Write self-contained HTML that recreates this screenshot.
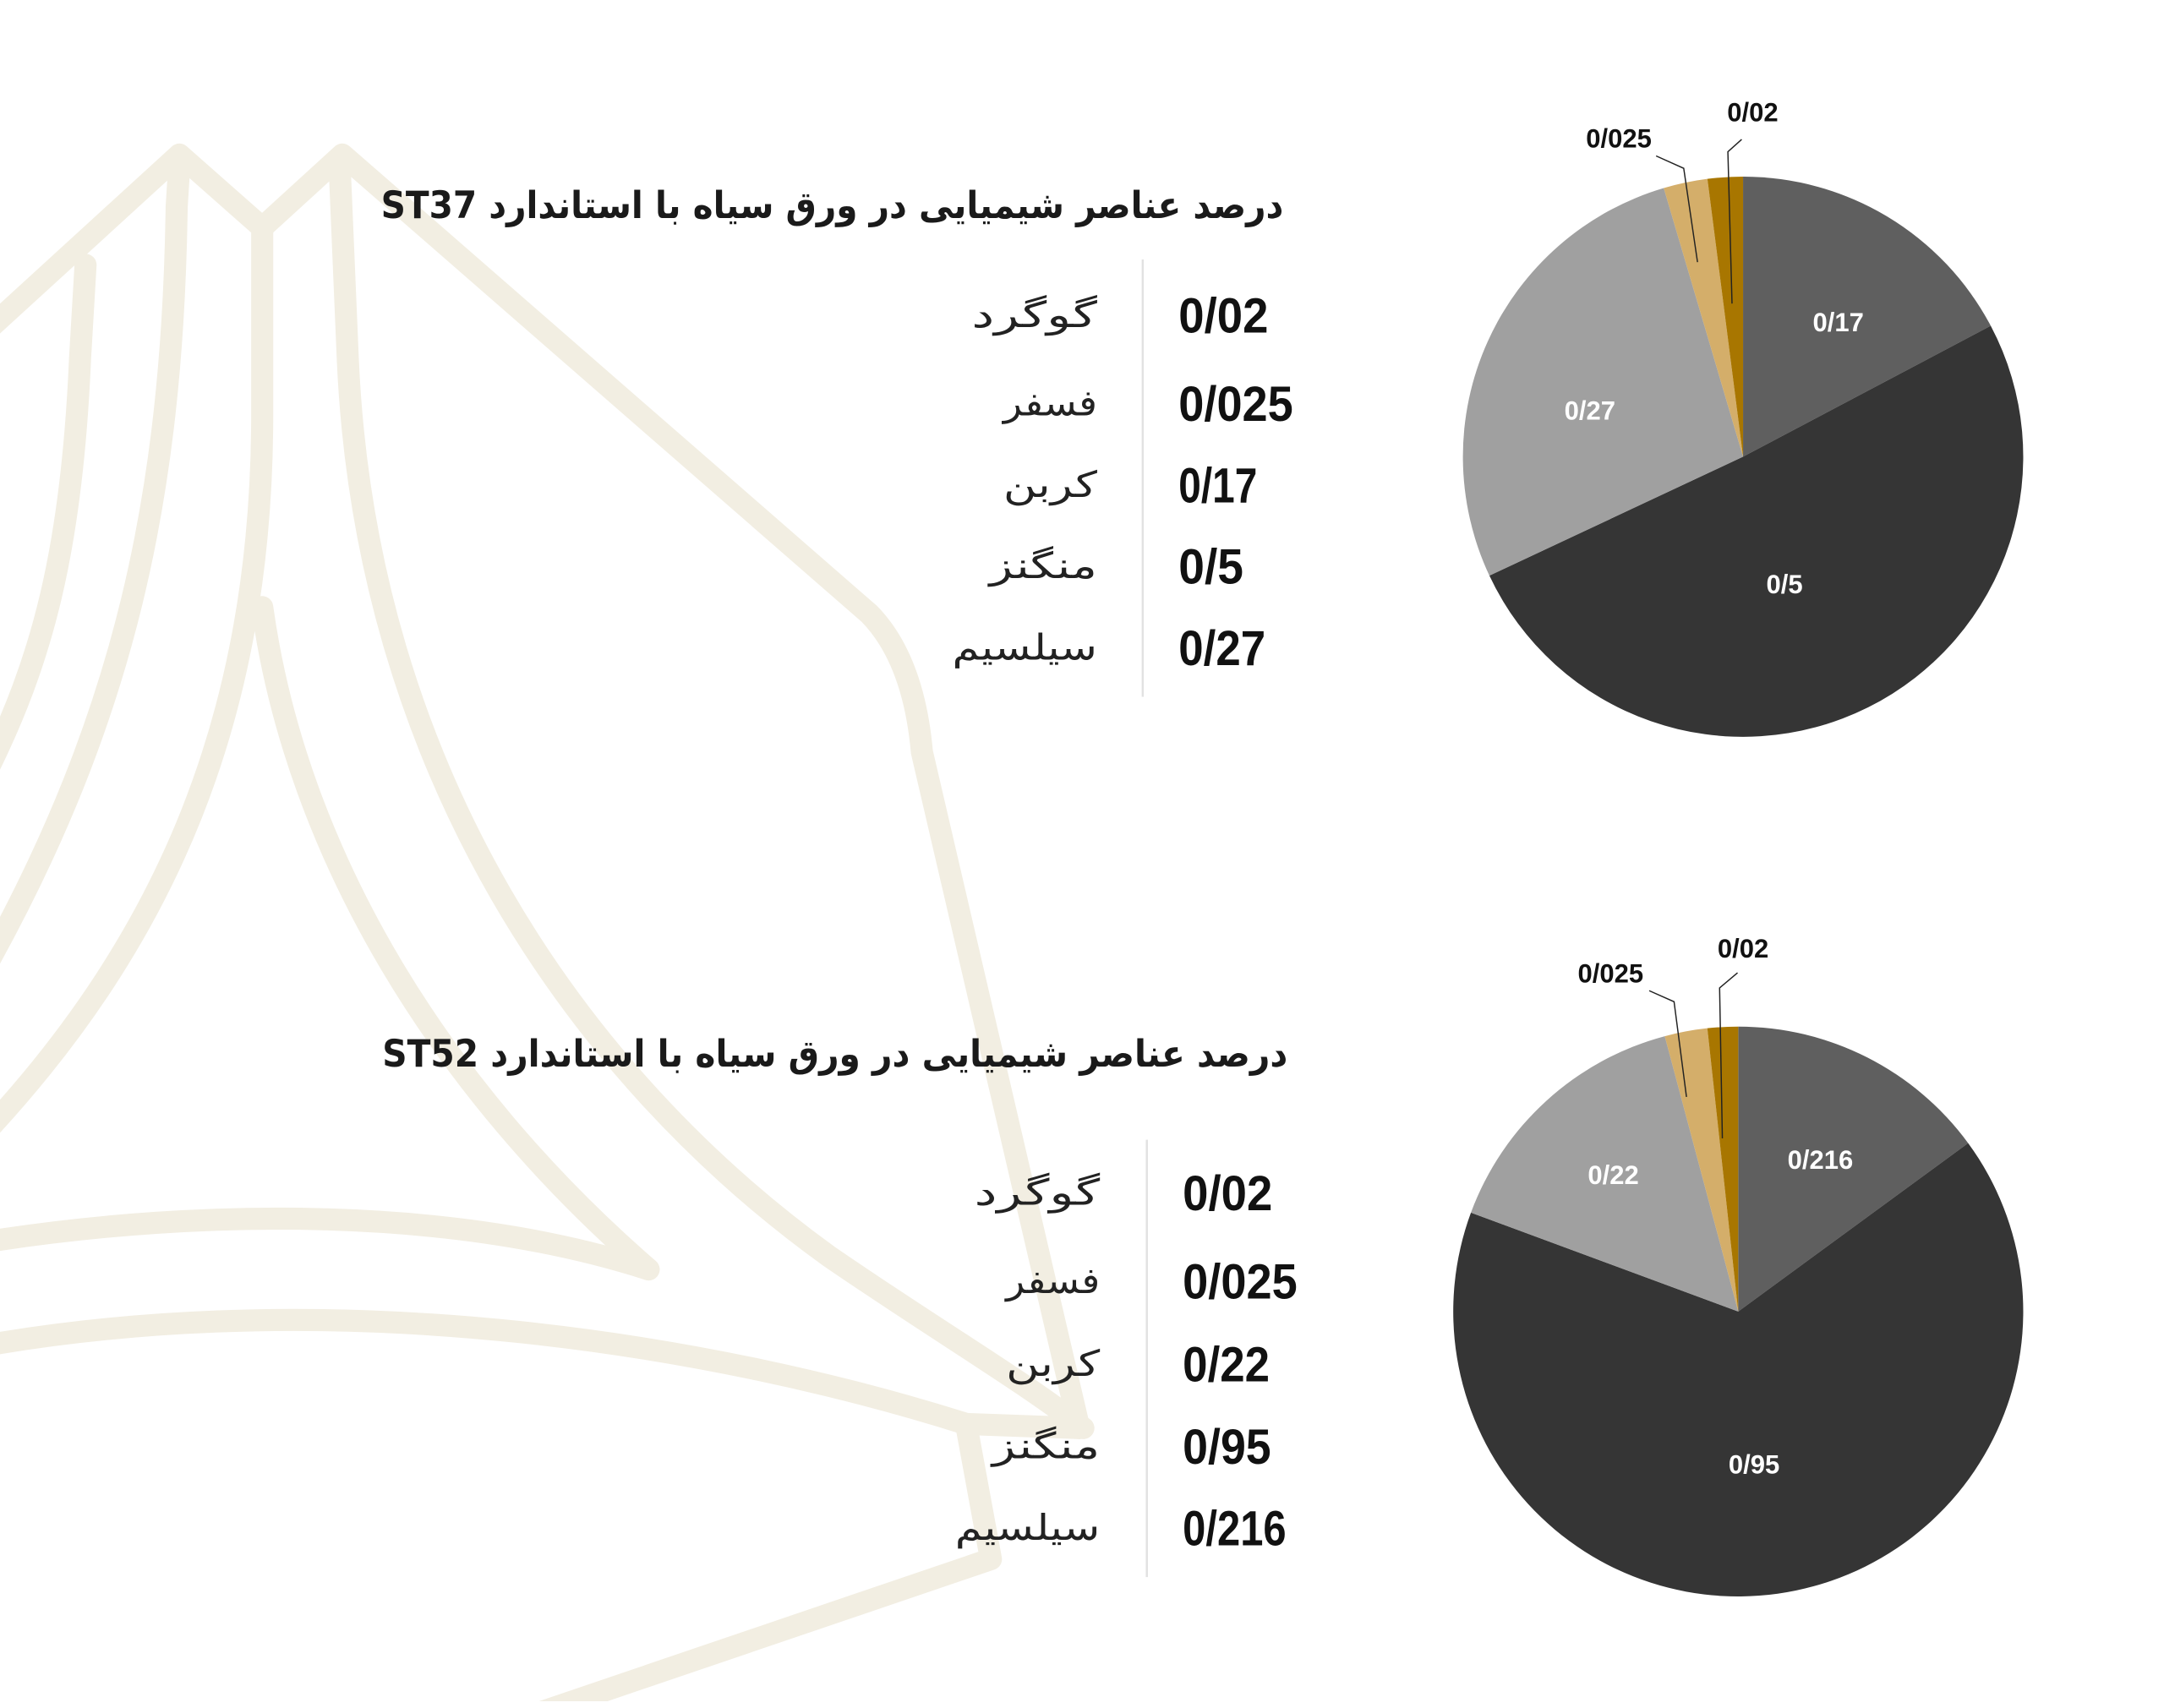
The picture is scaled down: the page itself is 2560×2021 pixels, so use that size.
<!DOCTYPE html>
<html><head><meta charset="utf-8"><style>
html,body{margin:0;padding:0;background:#fff;}
body{width:2560px;height:2013px;overflow:hidden;position:relative;}
#wrap{position:absolute;left:0;top:0;width:1568px;height:1233px;transform:scale(1.63265);transform-origin:0 0;}
</style></head><body><div id="wrap">
<svg id="s" width="1568" height="1233" viewBox="0 0 1568 1233" xmlns="http://www.w3.org/2000/svg">
<g fill="none" stroke="#f2eee2" stroke-width="16" stroke-linejoin="round" stroke-linecap="round">
<path d="M-10,240 L130,112 L190,165 L248,112 L630,445 Q662,478 668,545 L782,1035"/>
<path d="M130,118 L128,150 C125,360 90,520 -10,700"/>
<path d="M62,192 L58,260 C52,400 30,480 -10,560"/>
<path d="M190,168 L190,300 C190,520 120,680 -10,820"/>
<path d="M190,440 C215,620 320,790 470,920"/>
<path d="M246,118 L252,260 C265,560 420,780 600,910 C680,965 740,1000 785,1035"/>
<path d="M-10,900 C150,875 330,875 470,920"/>
<path d="M-10,975 C250,930 520,975 700,1032 L718,1130 L380,1245"/>
<path d="M700,1032 L782,1035"/>
</g>
<g stroke="#e2e2e2" stroke-width="1.5"><line x1="828" y1="188" x2="828" y2="505"/><line x1="831" y1="826" x2="831" y2="1143"/></g>
<g font-family="'DejaVu Sans',sans-serif" font-weight="bold" font-size="27" fill="#1a1a1a" text-anchor="middle" direction="rtl">
<text x="603" y="158" direction="rtl" textLength="654" lengthAdjust="spacingAndGlyphs">درصد عناصر شیمیایی در ورق سیاه با استاندارد ST37</text>
<text x="605" y="773" direction="rtl" textLength="656" lengthAdjust="spacingAndGlyphs">درصد عناصر شیمیایی در ورق سیاه با استاندارد ST52</text>
</g>
<g id="names" font-family="'DejaVu Sans',sans-serif" font-size="26" fill="#222" text-anchor="middle" font-weight="normal"></g>
<g id="vals" font-family="'Liberation Sans Narrow','Liberation Sans',sans-serif" font-size="36" font-weight="bold" fill="#111"></g>
<g id="pies"></g>
</svg></div>
<script>
var NS="http://www.w3.org/2000/svg";
function el(p,t,a,txt){var e=document.createElementNS(NS,t);for(var k in a)e.setAttribute(k,a[k]);if(txt!=null)e.textContent=txt;p.appendChild(e);return e;}
var names=document.getElementById('names'),vals=document.getElementById('vals'),pies=document.getElementById('pies');
var nm=[["گوگرد",704],["فسفر",727],["کربن",727],["منگنز",717],["سیلسیم",690]];
function rows(ys,right,vx,vs,ws){for(var i=0;i<5;i++){var l=nm[i][1]+(right-795);el(names,'text',{x:(l+right)/2,y:ys[i]+9,textLength:right-l,lengthAdjust:'spacingAndGlyphs'},nm[i][0]);
el(vals,'text',{x:vx,y:ys[i]+13,textLength:ws[i],lengthAdjust:'spacingAndGlyphs'},vs[i]);}}
rows([228,292,351,410,469],795,854,["0/02","0/025","0/17","0/5","0/27"],[65,83,57,47,63]);
rows([864,928,988,1048,1107],797,857,["0/02","0/025","0/22","0/95","0/216"],[65,83,63,64,75]);
function pie(cx,cy,r,data){var tot=0;data.forEach(function(d){tot+=d[0]});var a=0;
data.forEach(function(d){var a2=a+d[0]/tot*2*Math.PI;var x1=cx+r*Math.sin(a),y1=cy-r*Math.cos(a),x2=cx+r*Math.sin(a2),y2=cy-r*Math.cos(a2);
el(pies,'path',{d:'M'+cx+','+cy+' L'+x1+','+y1+' A'+r+','+r+' 0 '+((a2-a)>Math.PI?1:0)+' 1 '+x2+','+y2+' Z',fill:d[1]});a=a2;});}
pie(1263,331,203,[[0.17,'#5f5f5f'],[0.5,'#353535'],[0.27,'#a0a0a0'],[0.025,'#d4ae6a'],[0.02,'#a87600']]);
pie(1259.5,950.5,206.5,[[0.216,'#5f5f5f'],[0.95,'#353535'],[0.22,'#a0a0a0'],[0.035,'#d4ae6a'],[0.025,'#a87600']]);
var L=[["0/17",1332,234,'#fff'],["0/5",1293,424,'#fff'],["0/27",1152,298,'#fff'],["0/025",1173,101,'#111'],["0/02",1270,82,'#111'],
["0/216",1319,841,'#fff'],["0/95",1271,1062,'#fff'],["0/22",1169,852,'#fff'],["0/025",1167,706,'#111'],["0/02",1263,688,'#111']];
L.forEach(function(l){el(pies,'text',{x:l[1],y:l[2]+6,fill:l[3],'text-anchor':'middle','font-family':"'Liberation Sans Narrow','Liberation Sans',sans-serif",'font-weight':'bold','font-size':'19'},l[0]);});
[["1200,113 1220,122 1230,190"],["1262,101 1252,110 1255,220"],["1195,718 1213,726 1222,795"],["1259,705 1246,716 1248,825"]].forEach(function(p){el(pies,'polyline',{points:p[0],fill:'none',stroke:'#222','stroke-width':'0.9'});});
</script>
</body></html>
